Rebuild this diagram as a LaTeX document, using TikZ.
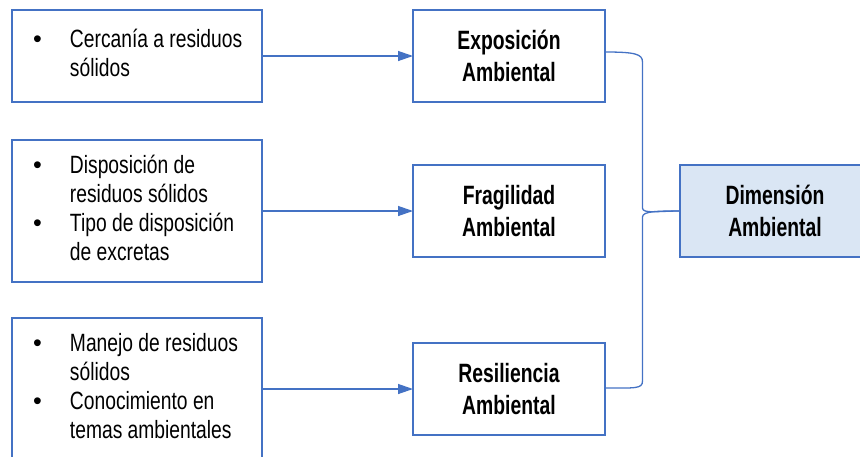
\documentclass[tikz,border=0pt]{standalone}
\usepackage{fontspec}
\setmainfont{Liberation Sans}[FakeStretch=0.73]
\newfontfamily\listafont{Liberation Sans}[FakeStretch=0.77]
\newfontfamily\puntofont{Liberation Sans}
\usepackage{array}
\usetikzlibrary{arrows.meta, calc, positioning}

\definecolor{azul}{HTML}{4472C4}
\definecolor{celeste}{HTML}{DAE6F4}

\newcommand{\vineta}{\hspace*{21pt}{\puntofont\textbullet}}
\newcommand{\lista}[1]{\begin{tabular}{@{}p{58pt}@{}p{192pt}@{}}#1\end{tabular}}

\begin{document}
\begin{tikzpicture}[x=1pt, y=-1pt, every node/.style={draw=azul, line width=2pt, outer sep=0pt, inner sep=0pt}]
	\tikzstyle{lista}=[
		minimum width=250pt,
		fill=white,
		font=\listafont\fontsize{25}{29}\selectfont
	]
	\tikzstyle{factor}=[
		minimum width=192pt,
		minimum height=92pt,
		align=center,
		font=\fontsize{26.5}{31.5}\selectfont\bfseries
	]
	\tikzstyle{flecha}=[
		azul,
		line width=1.3pt,
		-{Triangle[length=15pt, width=10pt]}
	]
	\tikzstyle{llave}=[
		azul,
		line width=1.3pt
	]

	\useasboundingbox (0,0) rectangle (860,456);

	\node (expo) at (509,56) [factor] {Exposición\\Ambiental};
	\node (fragil) at (509,211) [factor] {Fragilidad\\Ambiental};
	\node (resil) at (509,389) [factor] {Resiliencia\\Ambiental};

	\node (cerca) at (137,56) [lista, minimum height=92pt]
		{\lista{\vineta & Cercanía a residuos\\ & sólidos}};
	\node (dispo) at (137,211) [lista, minimum height=142pt]
		{\lista{\vineta & Disposición de\\ & residuos sólidos\\ \vineta & Tipo de disposición\\ & de excretas}};
	\node (manejo) at (137,389) [lista, minimum height=142pt]
		{\lista{\vineta & Manejo de residuos\\ & sólidos\\ \vineta & Conocimiento en\\ & temas ambientales}};

	\node (dimen) at (775,211) [factor, minimum width=190pt, fill=celeste] {Dimensión\\Ambiental};

	\draw [flecha] (cerca.east) -- (expo.west);
	\draw [flecha] (dispo.east) -- (fragil.west);
	\draw [flecha] (manejo.east) -- (resil.west);

	% llave hacia la dimension
	\coordinate (eje) at ($(expo.east)!0.5!(dimen.west)$);
	\draw [llave] ($(expo.east)+(0,-4)$) .. controls +(30,0) and +(0,-8) .. ($(eje |- expo.east)+(0,6)$)
		-- ($(eje |- dimen.west)+(0,-3)$) .. controls +(0,6) and +(-22,0) .. (dimen.west);
	\draw [llave] ($(resil.east)+(0,-1)$) .. controls +(30,0) and +(0,8) .. ($(eje |- resil.east)+(0,-8)$)
		-- ($(eje |- dimen.west)+(0,6)$) .. controls +(0,-6) and +(-22,0) .. (dimen.west);
\end{tikzpicture}
\end{document}
